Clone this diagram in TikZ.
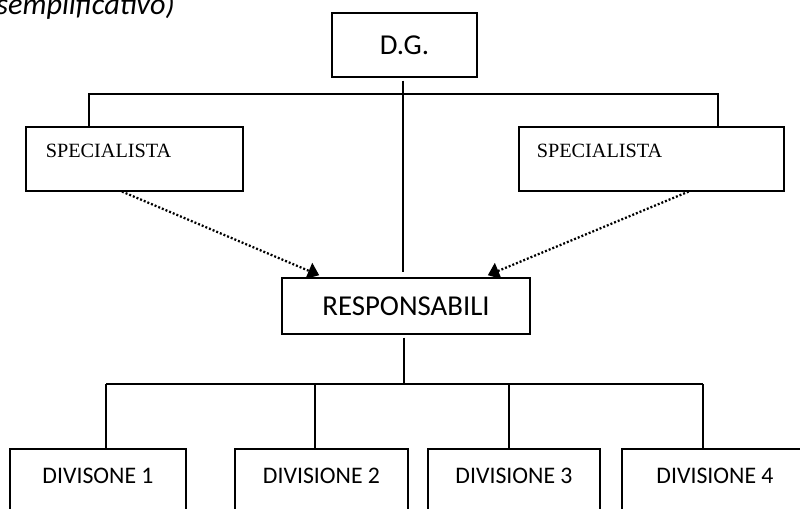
\documentclass[tikz,border=0pt]{standalone}
\usepackage{fontspec}
\setmainfont{Carlito}
\newfontfamily\serifspec{Liberation Serif}
\usepackage{tikz}
\usetikzlibrary{arrows.meta,positioning,calc}

\begin{document}
\begin{tikzpicture}[x=0.025cm,y=-0.025cm,
  box/.style={draw,line width=1.1pt,inner sep=0pt},
  divbox/.style={box,anchor=north,text height=0.875cm,text depth=1.5cm,font=\fontsize{16.9}{20}\selectfont},
  specbox/.style={box,anchor=north west,align=left,text height=0.775cm,text depth=0.825cm,font=\serifspec\fontsize{14.4}{16}\selectfont},
  link/.style={line width=1pt},
  dotlink/.style={line width=1.6pt,dash pattern=on 1.4pt off 1.4pt,-{Triangle[length=8pt,width=12pt]}}]
\useasboundingbox (0,0) rectangle (800,508);
\clip (0,0) rectangle (800,508);
% titolo (tagliato in alto)
\node[anchor=base east,inner sep=0pt,font=\itshape\fontsize{21.5}{24}\selectfont] (title) at (175,14) {(esemplificativo)};
% caselle
\node[box,minimum width=3.625cm,minimum height=1.6cm,font=\fontsize{20.5}{24}\selectfont] (dg) at (404.5,45) {D.G.};
\node[specbox,inner xsep=0.5cm,text width=4.425cm] (specL) at (25,126) {SPECIALISTA};
\node[specbox,inner xsep=0.45cm,text width=5.725cm] (specR) at (518,126) {SPECIALISTA};
\node[box,minimum width=6.2cm,minimum height=1.4cm,font=\fontsize{20.5}{24}\selectfont] (resp) at (406,306) {RESPONSABILI};
\node[divbox,minimum width=4.4cm] (div1) at (98,448) {DIVISONE 1};
\node[divbox,minimum width=4.325cm] (div2) at (321.5,448) {DIVISIONE 2};
\node[divbox,minimum width=4.3cm] (div3) at (514,448) {DIVISIONE 3};
\node[divbox,minimum width=4.65cm] (div4) at (715,448) {DIVISIONE 4};
% linee gerarchiche
\coordinate (barL) at (89,94);
\coordinate (barR) at (718,94);
\draw[link,shorten <=2pt,shorten >=4pt] (dg.south -| 403,0) -- (resp.north -| 403,0);
\draw[link] (barL |- specL.north) -- (barL) -- (barR) -- (barR |- specR.north);
\coordinate (bus) at (404,384);
\draw[link,shorten <=2pt] (resp.south -| bus) -- (bus);
\draw[link] (106,384) -- (703,384);
\foreach \x/\d in {106/div1,315/div2,509/div3,703/div4}
  \draw[link] (\x,384) -- (\x,384 |- \d.north);
% linee tratteggiate
\draw[dotlink] ($(specL.south west)+(97,0)$) -- ($(resp.north west)+(38,-2)$);
\draw[dotlink] ($(specR.south east)+(-96,0)$) -- ($(resp.north east)+(-43,-2)$);
\end{tikzpicture}
\end{document}
